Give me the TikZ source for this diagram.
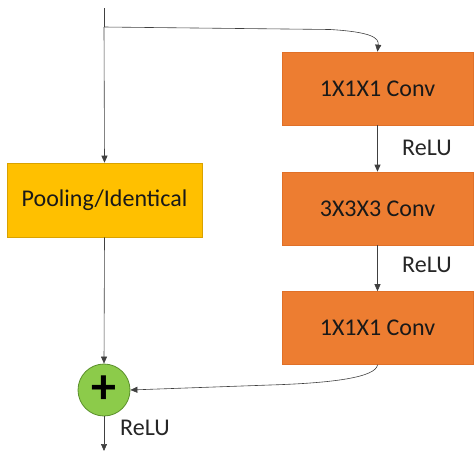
\documentclass[tikz,border=0pt]{standalone}
\usepackage{fontspec}
\setmainfont{Carlito}
\usetikzlibrary{arrows.meta}
\definecolor{convfill}{HTML}{ED7D31}
\definecolor{convline}{HTML}{E07028}
\definecolor{poolfill}{HTML}{FFC000}
\definecolor{poolline}{HTML}{D9A200}
\definecolor{sumfill}{HTML}{8CCB4A}
\definecolor{sumline}{HTML}{5A8F2A}
\begin{document}
\begin{tikzpicture}[x=1pt,y=-1pt,
  convbox/.style={draw=convline, line width=0.6pt, fill=convfill, minimum width=191pt, minimum height=73pt, inner sep=0pt, font=\fontsize{24}{28}\selectfont, text=black!90},
  poolbox/.style={draw=poolline, line width=0.6pt, fill=poolfill, minimum width=195pt, minimum height=74pt, inner sep=0pt, font=\fontsize{24}{28}\selectfont, text=black!90},
  sumnode/.style={circle, draw=sumline, line width=0.8pt, fill=sumfill, minimum size=52pt, inner sep=0pt, font=\fontsize{50}{50}\selectfont\bfseries},
  lbl/.style={font=\fontsize{24}{28}\selectfont, text=black!85, inner sep=0pt},
  arr/.style={-{Triangle[length=7pt,width=6pt]}, line width=0.6pt, draw=black!75},
  ln/.style={line width=0.6pt, draw=black!75}]
\useasboundingbox (0,0) rectangle (474,455);
\node[convbox] (c1) at (377.5,88.5) {1X1X1 Conv};
\node[convbox] (c2) at (377.5,208.5) {3X3X3 Conv};
\node[convbox] (c3) at (377.5,328) {1X1X1 Conv};
\node[poolbox] (p) at (104.5,200) {Pooling/Identical};
\node[sumnode] (s) at (104,390) {\raisebox{1pt}{+}};
\coordinate (top) at (104,8);
\coordinate (br) at (104,27);
\coordinate (out) at (104,451);
\draw[ln] (top) -- (br);
\draw[arr] (br) -- (p.north);
\draw[arr] (br) -- (330,29.5) .. controls (372,32) and (379,38) .. (c1.north);
\draw[arr] (c1.south) -- (c2.north);
\draw[arr] (c2.south) -- (c3.north);
\draw[arr] (c3.south) .. controls (376,377) and (335,383) .. (270,385) -- (s.east);
\draw[arr] (p.south) -- (s.north);
\draw[arr] (s.south) -- (out);
\node[lbl] (r1) at (427,148) {ReLU};
\node[lbl] (r2) at (427,265) {ReLU};
\node[lbl] (r3) at (145,428) {ReLU};
\end{tikzpicture}
\end{document}
